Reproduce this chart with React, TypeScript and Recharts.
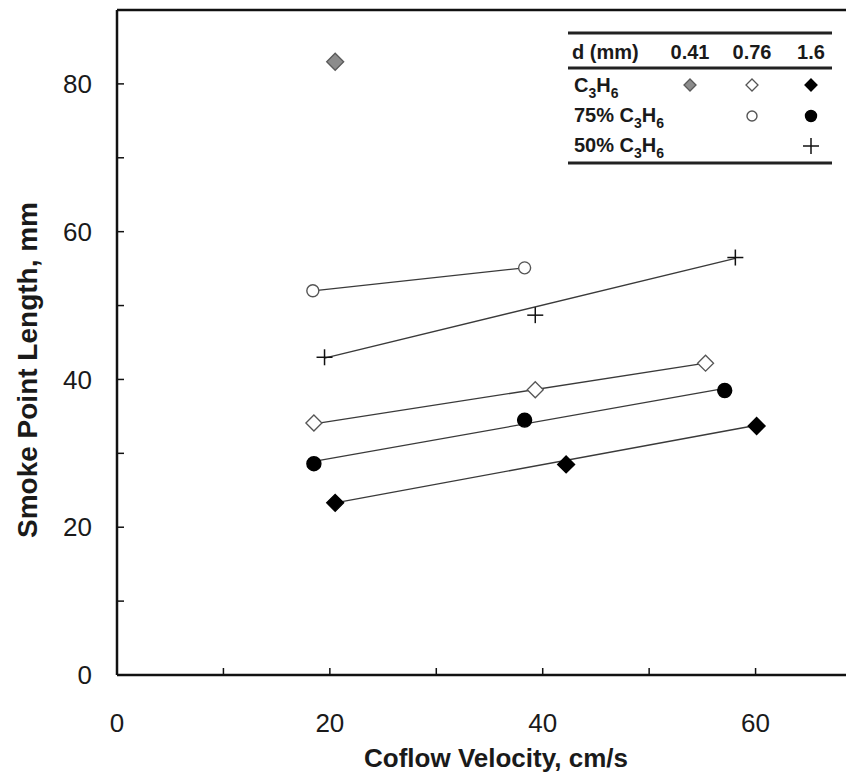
import React from 'react';
import { ReferenceLine, Scatter, ScatterChart, XAxis, YAxis } from 'recharts';

type Pt = { x: number; y: number };

// measured smoke point lengths (mm) against coflow velocity (cm/s)
const pure041: Pt[] = [{ x: 20.5, y: 83.0 }];
const pure076: Pt[] = [
  { x: 18.5, y: 34.1 },
  { x: 39.3, y: 38.6 },
  { x: 55.3, y: 42.2 },
];
const pure16: Pt[] = [
  { x: 20.5, y: 23.3 },
  { x: 42.2, y: 28.5 },
  { x: 60.1, y: 33.7 },
];
const mix75_076: Pt[] = [
  { x: 18.4, y: 52.0 },
  { x: 38.3, y: 55.1 },
];
const mix75_16: Pt[] = [
  { x: 18.5, y: 28.6 },
  { x: 38.3, y: 34.5 },
  { x: 57.1, y: 38.5 },
];
const mix50_16: Pt[] = [
  { x: 19.5, y: 43.0 },
  { x: 39.3, y: 48.7 },
  { x: 58.1, y: 56.5 },
];

// end points of the straight fit lines as drawn
const fitPure076: Pt[] = [
  { x: 18.5, y: 34.0 },
  { x: 55.3, y: 42.2 },
];
const fitPure16: Pt[] = [
  { x: 20.5, y: 23.3 },
  { x: 60.1, y: 33.8 },
];
const fitMix75_076: Pt[] = [
  { x: 18.4, y: 52.0 },
  { x: 38.3, y: 55.1 },
];
const fitMix75_16: Pt[] = [
  { x: 18.5, y: 28.9 },
  { x: 57.1, y: 38.8 },
];
const fitMix50_16: Pt[] = [
  { x: 19.5, y: 42.9 },
  { x: 58.1, y: 56.4 },
];

const X_TICKS = [0, 10, 20, 30, 40, 50, 60, 70];
const Y_TICKS = [0, 10, 20, 30, 40, 50, 60, 70, 80];
const LEGEND_COLS = ['0.41', '0.76', '1.6'];

const FONT = 'Arial, "Liberation Sans", sans-serif';
const LINE = '#3a3a3a';
const INK = '#1a1a1a';

const every20 = (v: number) => (v % 20 === 0 ? String(v) : '');

function diamond(cx: number, cy: number, r: number, fill: string, stroke: string) {
  return (
    <path
      d={`M${cx},${cy - r}L${cx + r},${cy}L${cx},${cy + r}L${cx - r},${cy}Z`}
      fill={fill}
      stroke={stroke}
      strokeWidth={1.3}
    />
  );
}

function circle(cx: number, cy: number, r: number, fill: string, stroke: string) {
  return <circle cx={cx} cy={cy} r={r} fill={fill} stroke={stroke} strokeWidth={1.4} />;
}

function plus(cx: number, cy: number, r: number) {
  return (
    <g stroke="#111" strokeWidth={1.5}>
      <line x1={cx - r} y1={cy} x2={cx + r} y2={cy} />
      <line x1={cx} y1={cy - r} x2={cx} y2={cy + r} />
    </g>
  );
}

const noMark = () => <g />;
const grayDiamond = (p: any) => diamond(p.cx, p.cy, 8.5, '#8c8c8c', '#5a5a5a');
const openDiamond = (p: any) => diamond(p.cx, p.cy, 8, '#fff', '#555');
const blackDiamond = (p: any) => diamond(p.cx, p.cy, 8.5, '#000', '#000');
const openCircle = (p: any) => circle(p.cx, p.cy, 6, '#fff', '#555');
const blackCircle = (p: any) => circle(p.cx, p.cy, 7, '#000', '#000');
const plusMark = (p: any) => plus(p.cx, p.cy, 8);

function C3H6({ x, y, prefix }: { x: number; y: number; prefix?: string }) {
  return (
    <text x={x} y={y} fontFamily={FONT} fontWeight="bold" fontSize={20} fill={INK}>
      {prefix}C
      <tspan dy={6} fontSize={14}>3</tspan>
      <tspan dy={-6}>H</tspan>
      <tspan dy={6} fontSize={14}>6</tspan>
    </text>
  );
}

function LegendTable() {
  const colX = [682, 744, 803];
  return (
    <g>
      <line x1={560} y1={25} x2={824} y2={25} stroke="#222" strokeWidth={3} />
      <text x={564} y={51} fontFamily={FONT} fontWeight="bold" fontSize={20} fill={INK}>
        d (mm)
      </text>
      {LEGEND_COLS.map((c, i) => (
        <text
          key={c}
          x={colX[i]}
          y={51}
          textAnchor="middle"
          fontFamily={FONT}
          fontWeight="bold"
          fontSize={20}
          fill={INK}
        >
          {c}
        </text>
      ))}
      <line x1={560} y1={60} x2={824} y2={60} stroke="#222" strokeWidth={3} />
      <C3H6 x={566} y={84} />
      {diamond(colX[0], 77, 6, '#8c8c8c', '#5a5a5a')}
      {diamond(colX[1], 77, 6, '#fff', '#555')}
      {diamond(colX[2], 77, 6, '#000', '#000')}
      <C3H6 x={566} y={114} prefix="75% " />
      {circle(colX[1], 108, 5, '#fff', '#555')}
      {circle(colX[2], 108, 5.5, '#000', '#000')}
      <C3H6 x={566} y={144} prefix="50% " />
      {plus(colX[2], 138, 8)}
      <line x1={560} y1={155} x2={824} y2={155} stroke="#222" strokeWidth={3} />
    </g>
  );
}

export default function App() {
  return (
    <div style={{ position: 'relative', width: 846, height: 767, overflow: 'hidden', background: '#fff' }}>
      <ScatterChart width={854} height={767} margin={{ top: 2, right: 0, bottom: 0, left: 0 }}>
        <XAxis
          type="number"
          dataKey="x"
          domain={[0, 70]}
          ticks={X_TICKS}
          tickFormatter={every20}
          height={100}
          axisLine={{ stroke: '#111', strokeWidth: 2.5 }}
          tickLine={{ stroke: '#111', strokeWidth: 1.5 }}
          tickSize={-7}
          tickMargin={46}
          tick={{ fill: INK, fontSize: 26, fontFamily: FONT }}
        />
        <YAxis
          type="number"
          dataKey="y"
          domain={[0, 90]}
          ticks={Y_TICKS}
          tickFormatter={every20}
          width={109}
          axisLine={{ stroke: '#111', strokeWidth: 2.5 }}
          tickLine={{ stroke: '#111', strokeWidth: 1.5 }}
          tickSize={-7}
          tickMargin={32}
          tick={{ fill: INK, fontSize: 26, fontFamily: FONT }}
        />
        <ReferenceLine y={90} stroke="#111" strokeWidth={2.5} />
        {[fitPure076, fitPure16, fitMix75_076, fitMix75_16, fitMix50_16].map((fit, i) => (
          <Scatter
            key={`fit${i}`}
            data={fit}
            line={{ stroke: LINE, strokeWidth: 1.3 }}
            shape={noMark}
            isAnimationActive={false}
          />
        ))}
        <Scatter data={pure041} shape={grayDiamond} isAnimationActive={false} />
        <Scatter data={pure076} shape={openDiamond} isAnimationActive={false} />
        <Scatter data={pure16} shape={blackDiamond} isAnimationActive={false} />
        <Scatter data={mix75_076} shape={openCircle} isAnimationActive={false} />
        <Scatter data={mix75_16} shape={blackCircle} isAnimationActive={false} />
        <Scatter data={mix50_16} shape={plusMark} isAnimationActive={false} />
      </ScatterChart>
      <svg
        width={846}
        height={767}
        style={{ position: 'absolute', left: 0, top: 0, pointerEvents: 'none' }}
      >
        <LegendTable />
        <text
          x={19}
          y={362}
          transform="rotate(-90 19 362)"
          textAnchor="middle"
          dominantBaseline="central"
          fontFamily={FONT}
          fontWeight="bold"
          fontSize={28}
          fill={INK}
        >
          Smoke Point Length, mm
        </text>
        <text
          x={488}
          y={759}
          textAnchor="middle"
          fontFamily={FONT}
          fontWeight="bold"
          fontSize={26}
          fill={INK}
        >
          Coflow Velocity, cm/s
        </text>
      </svg>
    </div>
  );
}
